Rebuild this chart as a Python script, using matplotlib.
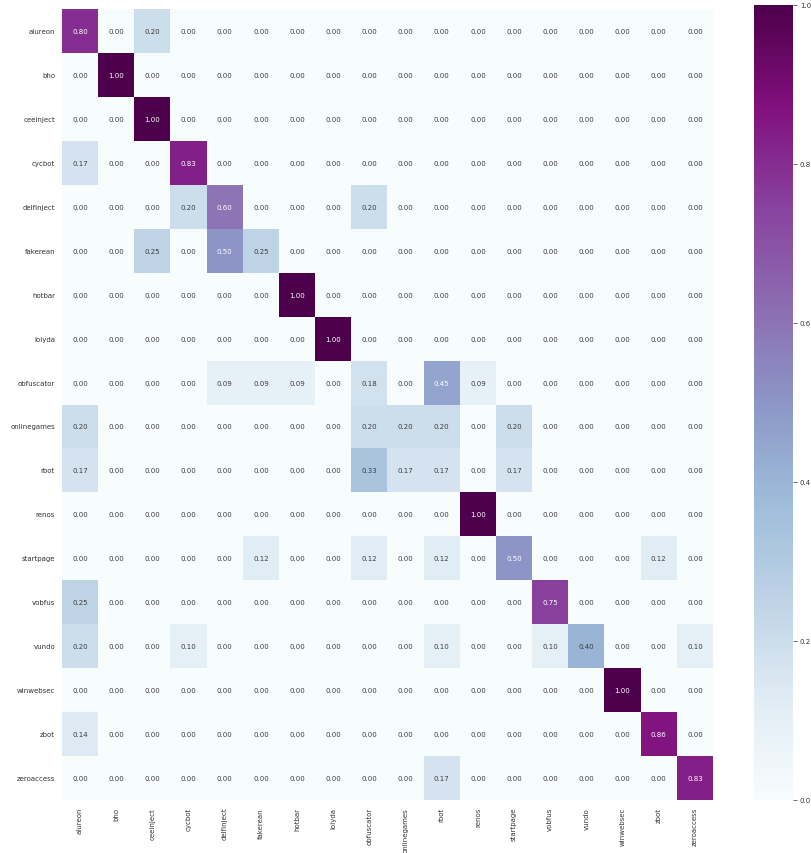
import numpy as np
import pandas as pd
import seaborn as sns
import matplotlib.pyplot as plt

families = ['alureon', 'bho', 'ceeinject', 'cycbot', 'delfinject', 'fakerean',
            'hotbar', 'lolyda', 'obfuscator', 'onlinegames', 'rbot', 'renos',
            'startpage', 'vobfus', 'vundo', 'winwebsec', 'zbot', 'zeroaccess']

# non-zero entries of the normalised confusion matrix: (predicted, rate)
alureon_row = [('alureon', 0.80), ('ceeinject', 0.20)]
bho_row = [('bho', 1.00)]
ceeinject_row = [('ceeinject', 1.00)]
cycbot_row = [('alureon', 0.17), ('cycbot', 0.83)]
delfinject_row = [('cycbot', 0.20), ('delfinject', 0.60), ('obfuscator', 0.20)]
fakerean_row = [('ceeinject', 0.25), ('delfinject', 0.50), ('fakerean', 0.25)]
hotbar_row = [('hotbar', 1.00)]
lolyda_row = [('lolyda', 1.00)]
obfuscator_row = [('delfinject', 0.09), ('fakerean', 0.09), ('hotbar', 0.09),
                  ('obfuscator', 0.18), ('rbot', 0.45), ('renos', 0.09)]
onlinegames_row = [('alureon', 0.20), ('obfuscator', 0.20), ('onlinegames', 0.20),
                   ('rbot', 0.20), ('startpage', 0.20)]
rbot_row = [('alureon', 0.17), ('obfuscator', 0.33), ('onlinegames', 0.17),
            ('rbot', 0.17), ('startpage', 0.17)]
renos_row = [('renos', 1.00)]
startpage_row = [('fakerean', 0.12), ('obfuscator', 0.12), ('rbot', 0.12),
                 ('startpage', 0.50), ('zbot', 0.12)]
vobfus_row = [('alureon', 0.25), ('vobfus', 0.75)]
vundo_row = [('alureon', 0.20), ('cycbot', 0.10), ('rbot', 0.10), ('vobfus', 0.10),
             ('vundo', 0.40), ('zeroaccess', 0.10)]
winwebsec_row = [('winwebsec', 1.00)]
zbot_row = [('alureon', 0.14), ('zbot', 0.86)]
zeroaccess_row = [('rbot', 0.17), ('zeroaccess', 0.83)]

rows = [alureon_row, bho_row, ceeinject_row, cycbot_row, delfinject_row, fakerean_row,
        hotbar_row, lolyda_row, obfuscator_row, onlinegames_row, rbot_row, renos_row,
        startpage_row, vobfus_row, vundo_row, winwebsec_row, zbot_row, zeroaccess_row]

cm = pd.DataFrame(0.0, index=families, columns=families)
for name, row in zip(families, rows):
    for pred, rate in row:
        cm.loc[name, pred] = rate

sns.set_style('white')
plt.rcParams['font.family'] = ['DejaVu Sans']

fig = plt.figure(figsize=(8.12, 8.54), dpi=100)
ax = fig.add_axes([62 / 812, 53 / 854, 651 / 812, 791 / 854])
cax = fig.add_axes([754 / 812, 53 / 854, 39 / 812, 795 / 854])

sns.heatmap(cm, ax=ax, cbar_ax=cax, cmap='BuPu', vmin=0, vmax=1,
            annot=True, fmt='.2f', annot_kws={'fontsize': 5})

# soften the dark annotation text a little
for t in ax.texts:
    if t.get_color() != 'w':
        t.set_color('#3d3d3d')

ax.tick_params(axis='both', labelsize=5, length=3, width=0.6, color='#555555',
               labelcolor='#333333', pad=2)
ax.set_xticklabels(families, rotation=90)
ax.set_yticklabels(families, rotation=0)
cax.tick_params(labelsize=5, length=3, width=0.6, color='#555555',
                labelcolor='#333333', pad=2)
cax.set_yticks([0.0, 0.2, 0.4, 0.6, 0.8, 1.0])

fig.savefig('out.png', dpi=100)
